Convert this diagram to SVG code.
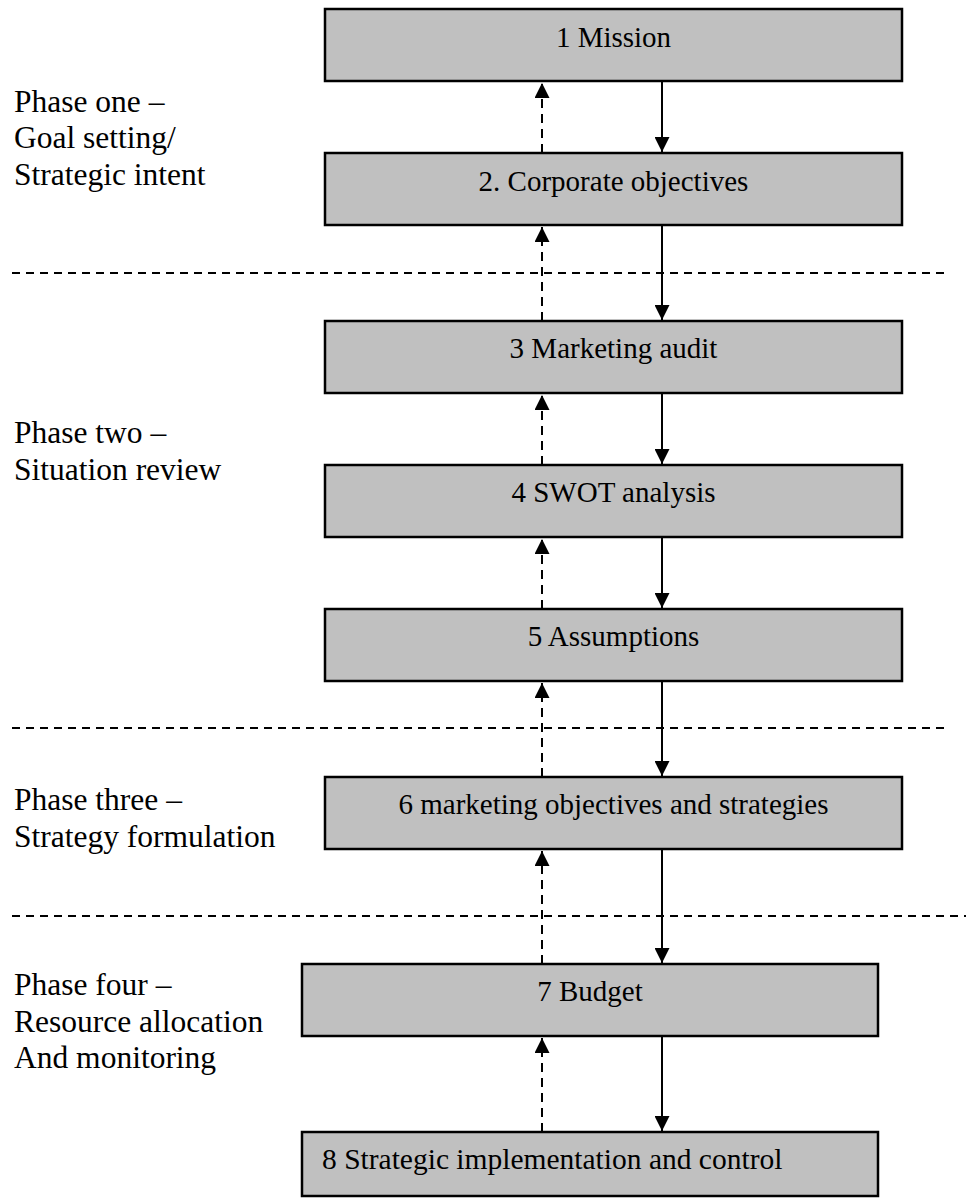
<svg xmlns="http://www.w3.org/2000/svg" width="966" height="1201" viewBox="0 0 966 1201">
<style>
.box{fill:#C0C0C0;stroke:#000;stroke-width:2.5}
.bt{font-family:"Liberation Serif","Times New Roman",serif;font-size:29px;fill:#000}
.pt{font-family:"Liberation Serif","Times New Roman",serif;font-size:31.5px;fill:#000}
.sep{stroke:#000;stroke-width:2;stroke-dasharray:8 6;fill:none}
.down{stroke:#000;stroke-width:2;fill:none;marker-end:url(#ah)}
.up{stroke:#000;stroke-width:2;stroke-dasharray:9 6;fill:none;marker-end:url(#ah)}
</style>
<defs>
<marker id="ah" viewBox="0 0 15 15" refX="15" refY="7.5" markerWidth="15" markerHeight="15" markerUnits="userSpaceOnUse" orient="auto">
<path d="M0,0 L15,7.5 L0,15 z" fill="#000"/>
</marker>
</defs>
<rect width="966" height="1201" fill="#fff"/>
<g id="phases">
<text class="pt" x="14" y="112">Phase one –</text>
<text class="pt" x="14" y="148">Goal setting/</text>
<text class="pt" x="14" y="185">Strategic intent</text>
<text class="pt" x="14" y="443">Phase two –</text>
<text class="pt" x="14" y="480">Situation review</text>
<text class="pt" x="14" y="810">Phase three –</text>
<text class="pt" x="14" y="847">Strategy formulation</text>
<text class="pt" x="14" y="995">Phase four –</text>
<text class="pt" x="14" y="1032">Resource allocation</text>
<text class="pt" x="14" y="1068">And monitoring</text>
</g>
<g id="separators">
<line class="sep" x1="12" y1="273" x2="944" y2="273"/>
<line class="sep" x1="12" y1="728" x2="944" y2="728"/>
<line class="sep" x1="12" y1="916" x2="966" y2="916"/>
</g>
<g id="n1"><rect class="box" x="325" y="9" width="577" height="72"/><text class="bt" x="613.5" y="47" text-anchor="middle">1 Mission</text></g>
<g id="n2"><rect class="box" x="325" y="153" width="577" height="72"/><text class="bt" x="613.5" y="191" text-anchor="middle">2. Corporate objectives</text></g>
<g id="n3"><rect class="box" x="325" y="321" width="577" height="72"/><text class="bt" x="613.5" y="358" text-anchor="middle">3 Marketing audit</text></g>
<g id="n4"><rect class="box" x="325" y="465" width="577" height="72"/><text class="bt" x="613.5" y="502" text-anchor="middle">4 SWOT analysis</text></g>
<g id="n5"><rect class="box" x="325" y="609" width="577" height="72"/><text class="bt" x="613.5" y="646" text-anchor="middle">5 Assumptions</text></g>
<g id="n6"><rect class="box" x="325" y="777" width="577" height="72"/><text class="bt" x="613.5" y="814" text-anchor="middle">6 marketing objectives and strategies</text></g>
<g id="n7"><rect class="box" x="302" y="964" width="576" height="72"/><text class="bt" x="590" y="1001" text-anchor="middle">7 Budget</text></g>
<g id="n8"><rect class="box" x="302" y="1132" width="576" height="64"/><text class="bt" x="322" y="1169" style="font-size:29.5px">8 Strategic implementation and control</text></g>
<g id="connectors">
<line class="down" x1="662" y1="81" x2="662" y2="152"/>
<line class="up" x1="542" y1="153" x2="542" y2="83"/>
<line class="down" x1="662" y1="225" x2="662" y2="320"/>
<line class="up" x1="542" y1="321" x2="542" y2="227"/>
<line class="down" x1="662" y1="393" x2="662" y2="464"/>
<line class="up" x1="542" y1="465" x2="542" y2="395"/>
<line class="down" x1="662" y1="537" x2="662" y2="608"/>
<line class="up" x1="542" y1="609" x2="542" y2="539"/>
<line class="down" x1="662" y1="681" x2="662" y2="776"/>
<line class="up" x1="542" y1="777" x2="542" y2="683"/>
<line class="down" x1="662" y1="849" x2="662" y2="963"/>
<line class="up" x1="542" y1="964" x2="542" y2="851"/>
<line class="down" x1="662" y1="1036" x2="662" y2="1131"/>
<line class="up" x1="542" y1="1132" x2="542" y2="1038"/>
</g>
</svg>
